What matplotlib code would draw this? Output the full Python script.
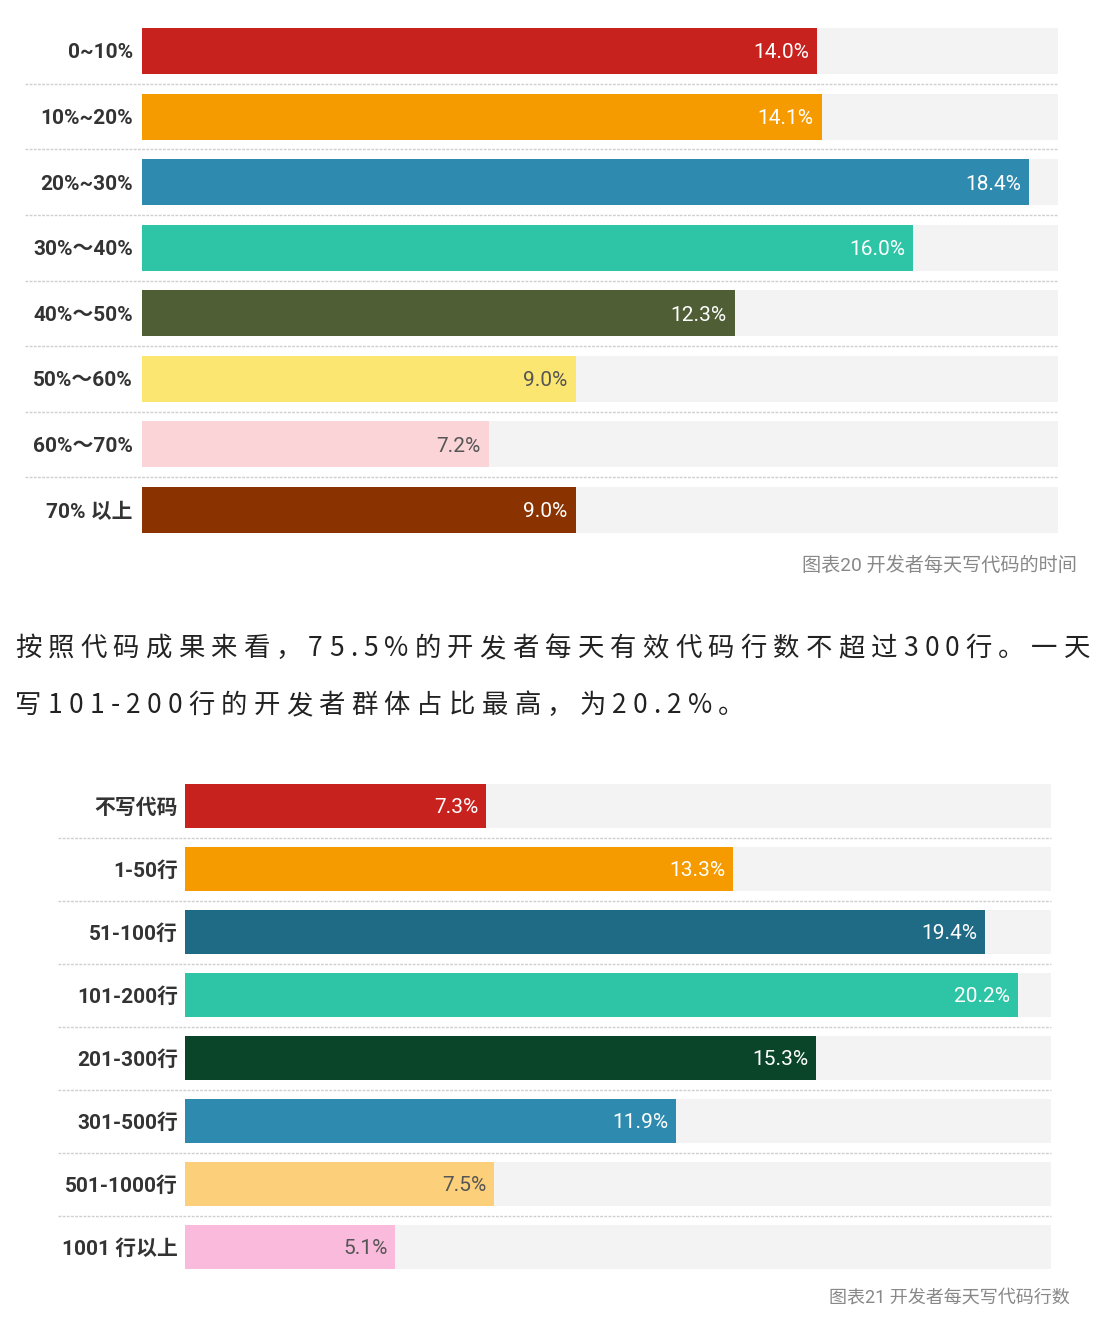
import numpy as np
import matplotlib
matplotlib.use("Agg")
import matplotlib.pyplot as plt
from matplotlib.font_manager import FontProperties

plt.rcParams['font.family'] = ['Roboto', 'Noto Sans CJK SC', 'DejaVu Sans']

# chart 1: share of time spent writing code
time_cats = ["0~10%", "10%~20%", "20%~30%", "30%～40%", "40%～50%",
             "50%～60%", "60%～70%", "70% 以上"]
time_vals = [14.0, 14.1, 18.4, 16.0, 12.3, 9.0, 7.2, 9.0]
time_colors = ["#C8221E", "#F59B00", "#2E8AAE", "#2DC5A6", "#4F5E35",
               "#FBE672", "#FAD4D6", "#8B3300"]
time_txt = ["white", "white", "white", "white", "white", "#555555", "#555555", "white"]

# chart 2: lines of code per day
loc_cats = ["不写代码", "1-50行", "51-100行", "101-200行", "201-300行",
            "301-500行", "501-1000行", "1001 行以上"]
loc_vals = [7.3, 13.3, 19.4, 20.2, 15.3, 11.9, 7.5, 5.1]
loc_colors = ["#C8221E", "#F59B00", "#1F6A85", "#2DC5A6", "#0A452A",
              "#2E8AAE", "#FCD07B", "#F9BADB"]
loc_txt = ["white", "white", "white", "white", "white", "white", "#555555", "#555555"]

para_lines = ["按照代码成果来看，75.5%的开发者每天有效代码行数不超过300行。一天",
              "写101-200行的开发者群体占比最高，为20.2%。"]

W, H = 1104, 1336
fig = plt.figure(figsize=(W / 100, H / 100), dpi=100, facecolor="white")


def px_axes(left, top, right, bottom):
    return fig.add_axes([left / W, 1 - bottom / H, (right - left) / W, (bottom - top) / H])


def draw_bars(ax, cats, vals, colors, txtc, xmax, sep_left_frac, pad):
    n = len(cats)
    y = np.arange(n)
    ax.barh(y, [xmax] * n, height=0.7, color="#F3F3F3", zorder=1)
    ax.barh(y, vals, height=0.7, color=colors, zorder=2)
    for yi, v, c in zip(y, vals, txtc):
        ax.text(v - xmax * 0.009, yi + 0.03, f"{v:.1f}%", ha="right", va="center",
                color=c, fontsize=15, zorder=3)
    for yi in y[:-1]:
        ax.axhline(yi + 0.5, xmin=sep_left_frac, xmax=1, color="#CFCFCF",
                   lw=1.0, ls=(0, (2, 1)), clip_on=False, zorder=1)
    ax.set_xlim(0, xmax)
    ax.set_ylim(n - 0.5, -0.5)
    ax.set_yticks(y)
    ax.set_yticklabels(cats, fontsize=15, fontweight="bold", color="#333333")
    ax.set_xticks([])
    ax.tick_params(axis="y", length=0, pad=pad)
    for s in ax.spines.values():
        s.set_visible(False)
    ax.patch.set_alpha(0)


ax1 = px_axes(142, 18.2, 1058, 542.8)
draw_bars(ax1, time_cats, time_vals, time_colors, time_txt, 19.0, (25 - 142) / 916, 6.5)

ax2 = px_axes(185, 774.5, 1051, 1278.5)
draw_bars(ax2, loc_cats, loc_vals, loc_colors, loc_txt, 21.0, (58 - 185) / 866, 5)

fig.text(1077 / W, 1 - 566 / H, "图表20 开发者每天写代码的时间", ha="right", va="center",
         fontsize=13.8, color="#888888")
fig.text(1070 / W, 1 - 1298 / H, "图表21 开发者每天写代码行数", ha="right", va="center",
         fontsize=13, color="#888888")

# paragraph between the charts, drawn char by char to get the letter spacing
prop = FontProperties(family='Noto Sans CJK SC', size=19)
renderer = fig.canvas.get_renderer()


def advance(ch):
    w10 = renderer.get_text_width_height_descent(ch * 11, prop, ismath=False)[0]
    w1 = renderer.get_text_width_height_descent(ch, prop, ismath=False)[0]
    return (w10 - w1) / 10


letter_sp = 6.2
for line, base in zip(para_lines, [656, 713]):
    x = 15.0
    for ch in line:
        fig.text(x / W, 1 - base / H, ch, ha="left", va="baseline",
                 fontproperties=prop, color="#222222")
        x += advance(ch) + letter_sp

fig.savefig("out.png", dpi=100, facecolor="white")
